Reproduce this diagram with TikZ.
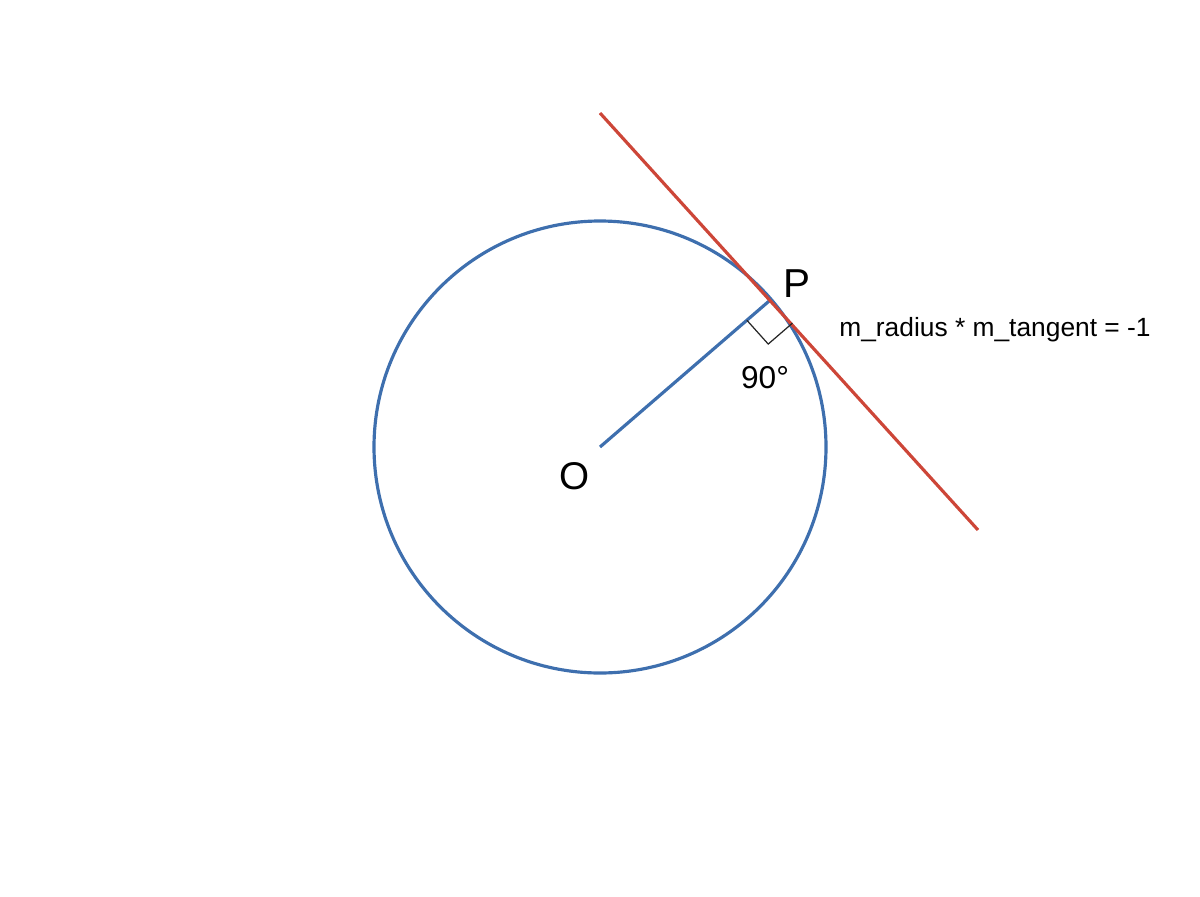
\documentclass[tikz,border=0pt]{standalone}
\usepackage{fontspec}
\setmainfont{Liberation Sans}
\usetikzlibrary{calc}

\definecolor{circblue}{RGB}{62,111,174}
\definecolor{tanred}{RGB}{205,70,56}

\begin{document}
\begin{tikzpicture}[
    x=0.02cm, y=-0.02cm,
    every node/.style={inner sep=0pt},
    radline/.style={circblue, line width=1.8pt},
    tanline/.style={tanred, line width=1.8pt},
    marker/.style={black!85, line width=0.7pt},
]
\useasboundingbox (0,0) rectangle (1200,896);

% Centre, point of contact and the ends of the tangent
\coordinate (O) at (600,447);
\coordinate (P) at ($(O)+(-40.8:226)$);
\coordinate (T1) at (600,113);
\coordinate (T2) at (978,530);

% The circle and its radius
\draw[radline] (O) circle (226);
\draw[radline] (O) -- (P);

% The tangent line
\draw[tanline] (T1) -- (T2);

% Right-angle mark at P
\coordinate (RA) at ($(P)!0.64cm!(O)$);
\coordinate (RB) at ($(P)!0.64cm!(T2)$);
\draw[marker] (RA) -- ($(RA)+(RB)-(P)$) -- (RB);

% Labels
\node[font=\fontsize{23}{26}\selectfont] (Plabel) at (797,284) {P};
\node[font=\fontsize{22}{25}\selectfont] (Olabel) at (575,476) {O};
\node[font=\fontsize{18}{21}\selectfont] (angle) at (765,378) {90°};
\node[font=\fontsize{15}{18}\selectfont] (slope) at (995,330) {m\_radius * m\_tangent = -1};

\end{tikzpicture}
\end{document}
